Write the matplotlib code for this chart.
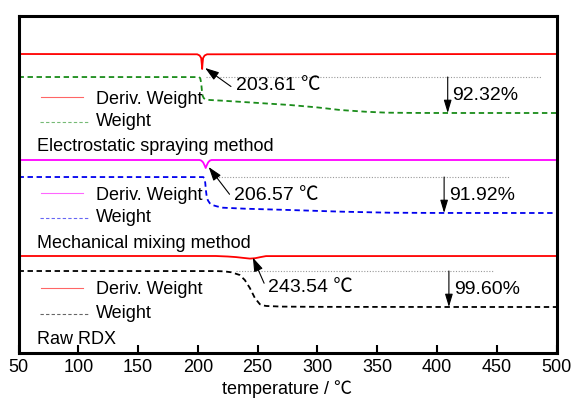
import matplotlib
matplotlib.use("Agg")
import matplotlib.pyplot as plt
import numpy as np

plt.rcParams['font.family'] = ['Liberation Sans', 'Noto Sans CJK SC', 'DejaVu Sans']
plt.rcParams['font.size'] = 13

# TG / DTG data for the three RDX samples (temperature in degC, weight in %, deriv in %/degC)
es_t = [50, 201, 202, 202.8, 203.4, 204, 205, 206.5, 210, 221, 250, 277, 300, 319, 340, 358, 380, 400, 500]
es_w = [100, 99.8, 97, 85, 65, 52, 45.5, 42.5, 41, 39.2, 33.5, 28.2, 22, 15.4, 11, 8.5, 7.9, 7.72, 7.68]
es_dt = [50, 199.5, 201.5, 202.8, 203.3, 203.61, 203.9, 204.4, 205.7, 207.7, 500]
es_d = [0, -0.3, -1.5, -4, -10, -15, -10, -4, -1.5, -0.3, 0]

mm_t = [50, 204.5, 205.5, 206.2, 206.8, 207.5, 208.5, 210, 212, 216, 221, 240, 277, 320, 361, 400, 500]
mm_w = [100, 99.8, 97, 85, 65, 48, 40, 33, 28.5, 25, 21.6, 19, 15.7, 11.5, 8.8, 8.2, 8.08]
mm_dt = [50, 201.5, 203, 204.5, 205.7, 206.57, 207.4, 208.6, 210, 211.5, 500]
mm_d = [0, 0, -0.6, -2.5, -5.5, -8, -5.5, -2.5, -0.6, 0, 0]

raw_t = [50, 215, 222, 228, 235, 239.3, 243.5, 247.7, 251.9, 255, 257.3, 270, 300, 400, 500]
raw_w = [100, 99.8, 99, 96.5, 89, 75, 53, 25.3, 8, 4.5, 3.2, 1.5, 0.8, 0.45, 0.4]
raw_dt = [50, 215, 225, 232, 238, 243.54, 248, 252, 257, 500]
raw_d = [0, 0, -0.5, -1.1, -1.9, -2.6, -2.2, -1.2, -0.1, 0]

peaks = [203.61, 206.57, 243.54]
losses = [92.32, 91.92, 99.60]
names = ['Electrostatic spraying method', 'Mechanical mixing method', 'Raw RDX']

fig = plt.figure(figsize=(5.75, 3.99), dpi=100)
ax = fig.add_axes([18.5 / 575, (399 - 352.5) / 399, 538 / 575, 336.5 / 399])
ax.set_xlim(50, 500)
ax.set_ylim(352.5, 16)

# per panel: deriv baseline, weight 100% level, colours, ref line span, arrow x, label spots
panels = [
    dict(t=es_t, w=es_w, dt=es_dt, d=es_d, dbase=54, wbase=77, dcol='#ff0000', wcol='#1a8c1a',
         ref=(207, 487), ax_t=409, txt=(236, 85), leg=(99, 122), name_y=146.5),
    dict(t=mm_t, w=mm_w, dt=mm_dt, d=mm_d, dbase=160, wbase=177, dcol='#ff00ff', wcol='#0000ee',
         ref=(213, 461), ax_t=406, txt=(234, 195), leg=(195, 218), name_y=243),
    dict(t=raw_t, w=raw_w, dt=raw_dt, d=raw_d, dbase=256, wbase=271, dcol='#ff0000', wcol='#000000',
         ref=(232, 447), ax_t=410, txt=(268, 287), leg=(289.5, 314), name_y=340),
]

def px2t(px):
    return (px - 18.5) / 538 * 450 + 50

for i, p in enumerate(panels):
    scale = 36.0 / losses[i]
    wy = p['wbase'] + (100 - np.array(p['w'])) * scale
    dy = p['dbase'] - np.array(p['d'])
    ax.plot(p['dt'], dy, color=p['dcol'], lw=1.3)
    ax.plot(p['t'], wy, color=p['wcol'], lw=1.3, ls=(0, (3, 2)))
    # reference level of the initial weight
    ax.plot(p['ref'], [p['wbase'], p['wbase']], color='#999999', lw=0.8, ls=(0, (1, 1.5)))
    # mass loss arrow
    y_end = p['wbase'] + losses[i] * scale
    ax.annotate('', xy=(p['ax_t'], y_end), xytext=(p['ax_t'], p['wbase']),
                arrowprops=dict(arrowstyle='-|>,head_length=0.6,head_width=0.18', color='black', lw=0.8,
                                shrinkA=0, shrinkB=0))
    ax.text(p['ax_t'] + 4, p['wbase'] + 19, '%.2f%%' % losses[i], ha='left', va='center', fontsize=14)
    # peak label
    i_pk = p['dt'].index(peaks[i])
    ax.annotate('%.2f ℃' % peaks[i], xy=(peaks[i] + 2.5, dy[i_pk] - 1),
                xytext=(px2t(p['txt'][0]), p['txt'][1]), ha='left', va='center', fontsize=14,
                arrowprops=dict(arrowstyle='-|>,head_length=0.6,head_width=0.2', color='black', lw=0.8,
                                shrinkA=2, shrinkB=0, relpos=(0, 0.2)))
    # legend keys
    ly1, ly2 = p['leg']
    ax.plot([px2t(41), px2t(83)], [ly1 - 2, ly1 - 2], color=p['dcol'], lw=0.8, alpha=0.6)
    ax.plot([px2t(40), px2t(88)], [ly2, ly2], color=p['wcol'], lw=0.8, alpha=0.6, ls=(0, (3, 2)))
    ax.text(px2t(96), ly1, 'Deriv. Weight', ha='left', va='center')
    ax.text(px2t(96), ly2, 'Weight', ha='left', va='center')
    ax.text(px2t(37), p['name_y'], names[i], ha='left', va='center')

ax.set_xticks(range(50, 501, 50))
ax.set_yticks([])
ax.tick_params(axis='x', direction='in', length=6, width=1.5, pad=5, labelsize=13)
for s in ax.spines.values():
    s.set_linewidth(2.2)
ax.set_xlabel('temperature / ℃', labelpad=3, fontsize=13)

fig.savefig('out.png', dpi=100)
